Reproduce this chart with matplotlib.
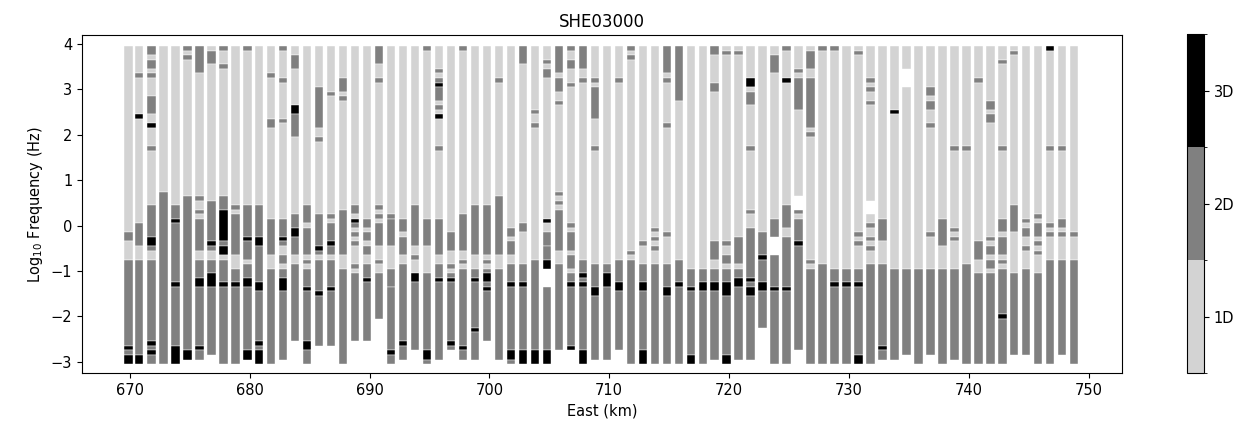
import matplotlib
matplotlib.use("Agg")
import matplotlib.pyplot as plt
from matplotlib.colors import ListedColormap, BoundaryNorm
import matplotlib.cm as cm

# station positions (km east)
east = [669.9, 670.75, 671.8, 672.8, 673.8, 674.8, 675.8, 676.8, 677.8, 678.8,
        679.8, 680.8, 681.8, 682.8, 683.8, 684.8, 685.8, 686.8, 687.8, 688.8,
        689.8, 690.8, 691.8, 692.8, 693.8, 694.8, 695.8, 696.8, 697.8, 698.8,
        699.8, 700.8, 701.8, 702.8, 703.8, 704.8, 705.8, 706.8, 707.8, 708.8,
        709.8, 710.8, 711.8, 712.8, 713.8, 714.8, 715.8, 716.8, 717.8, 718.8,
        719.8, 720.8, 721.8, 722.8, 723.8, 724.8, 725.8, 726.8, 727.8, 728.8,
        729.8, 730.8, 731.8, 732.8, 733.8, 734.8, 735.8, 736.8, 737.8, 738.8,
        739.8, 740.8, 741.8, 742.8, 743.8, 744.8, 745.8, 746.8, 747.8, 748.8]

# dimensionality per station, run-length coded from the highest frequency bin down
# class:count, bins of 0.1 decade starting at log10 f = 3.95 ; 0 = no estimate
dims = [
    "1:41 2:2 1:4 2:19 3:1 2:1 3:2",
    "1:6 2:1 1:8 3:1 1:23 2:5 1:3 2:21 3:2",
    "2:2 1:1 2:2 1:1 2:1 1:4 2:4 1:2 3:1 1:4 2:1 1:12 2:7 3:2 2:1 1:2 2:18 3:1 2:1 3:1 2:2",
    "1:32 2:38",
    "1:35 2:3 3:1 2:13 3:1 2:13 3:4",
    "2:1 1:1 2:1 1:30 2:34 3:2 0:1",
    "2:6 1:27 2:1 1:2 2:1 1:1 2:7 1:2 2:4 3:2 2:13 3:1 2:2 0:1",
    "1:1 2:3 1:30 2:9 3:1 2:1 1:2 2:3 3:3 2:15 0:2",
    "2:1 1:3 2:1 1:28 2:3 3:7 2:1 3:2 1:1 2:5 3:1 2:17",
    "1:35 2:1 1:1 2:9 1:3 2:3 3:1 2:17",
    "2:1 1:34 2:7 3:1 2:4 1:1 2:3 3:2 2:14 3:2 0:1",
    "1:35 2:7 3:2 2:8 3:2 2:11 3:1 2:1 3:3",
    "1:6 2:1 1:9 2:2 1:20 2:8 1:3 2:21",
    "2:1 1:6 2:1 1:8 2:1 1:21 2:4 3:1 2:1 1:2 2:2 1:1 2:2 3:3 2:15 0:1",
    "1:2 2:3 1:8 3:2 2:5 1:17 2:3 3:2 2:4 1:2 2:17 0:5",
    "1:35 2:4 1:1 2:6 1:1 2:1 1:1 2:4 3:1 2:11 3:2 2:3",
    "1:9 2:9 1:2 2:1 1:16 2:7 3:1 2:1 1:1 2:7 3:1 2:11 0:4",
    "1:10 2:1 1:26 2:1 1:1 2:4 3:1 2:2 1:1 2:6 3:1 2:12 0:4",
    "1:7 2:3 1:1 2:1 1:24 2:10 1:3 2:21",
    "1:35 2:2 1:1 3:1 2:1 1:1 2:1 1:1 2:1 1:4 2:1 1:1 2:15 0:5",
    "1:38 2:2 1:1 2:2 1:1 2:2 1:2 2:3 3:1 2:13 0:5",
    "2:4 1:3 2:1 1:27 2:1 1:1 2:1 1:1 2:5 1:3 2:1 1:2 2:10 0:10",
    "1:37 2:1 2:6 1:5 2:4 2:14 3:1 2:2",
    "1:38 2:3 1:1 2:4 1:2 2:17 3:1 2:3 0:1",
    "1:35 2:9 1:2 2:1 1:3 3:2 2:15 0:3",
    "2:1 1:37 2:6 1:6 2:17 3:2 2:1",
    "1:5 2:1 1:1 2:1 3:1 2:3 1:1 2:1 1:1 3:1 1:6 2:1 1:15 2:8 1:2 2:3 3:1 2:17 0:1",
    "1:41 2:4 1:3 2:1 1:1 2:1 3:1 2:13 3:1 2:1 0:3",
    "2:1 1:36 2:8 1:2 2:1 1:1 2:17 3:1 2:2 0:1",
    "1:35 2:11 1:3 2:2 3:1 2:10 3:1 2:6 0:1",
    "1:35 2:11 1:1 2:1 1:1 2:1 3:2 2:1 3:1 2:11 0:5",
    "1:7 2:1 1:25 2:13 1:3 2:20 0:1",
    "1:40 2:2 1:1 2:3 1:2 2:4 3:1 2:14 3:2 2:1",
    "2:4 1:35 2:2 1:7 2:4 3:1 2:14 3:3",
    "1:14 2:1 1:2 2:1 1:29 2:20 3:3",
    "1:3 2:1 1:1 2:2 1:31 3:1 1:2 2:3 2:3 3:2 0:4 2:14 3:3",
    "2:6 1:1 2:3 1:2 2:1 1:19 2:1 1:1 2:1 1:1 2:9 1:3 2:19 0:3",
    "2:1 1:2 2:2 1:3 2:1 1:30 2:1 1:1 2:4 1:1 2:3 1:1 2:2 3:1 2:13 3:1 0:3",
    "2:5 1:2 2:1 1:39 2:3 3:1 2:1 3:1 2:14 3:3",
    "1:7 2:1 1:1 2:7 1:6 2:1 1:25 2:5 3:2 2:14 0:1",
    "1:48 2:2 3:3 2:16 0:1",
    "1:7 2:1 1:39 2:5 3:2 2:13 0:3",
    "2:1 1:1 2:1 1:42 2:1 1:1 2:23",
    "1:43 2:1 1:4 2:4 3:2 2:13 3:3",
    "1:40 2:1 1:1 2:1 1:1 2:1 1:3 2:22",
    "2:6 1:1 2:1 1:9 2:1 1:23 2:1 1:6 2:5 3:2 2:15",
    "2:12 1:35 2:5 3:1 2:17",
    "1:49 2:4 3:1 2:14 3:2",
    "1:49 2:3 3:2 2:16",
    "2:2 1:6 2:2 1:33 2:4 1:2 2:3 3:2 2:15 0:1",
    "1:1 2:1 1:41 2:1 1:2 2:2 1:1 2:3 3:3 2:13 3:2",
    "1:1 2:1 1:40 2:6 1:1 2:2 3:2 2:16 0:1",
    "1:7 3:2 1:1 2:3 1:9 2:1 1:13 2:1 1:3 2:11 3:1 2:1 3:2 2:14 0:1",
    "1:41 2:5 3:1 2:5 3:2 2:8 0:8",
    "1:2 2:4 1:32 2:4 0:4 2:7 3:1 2:16",
    "2:1 1:6 3:1 1:27 2:5 1:2 2:11 3:1 2:16",
    "1:5 2:1 1:1 2:7 1:19 0:3 2:1 1:1 2:5 3:1 2:23 0:3",
    "1:1 2:4 1:2 2:11 1:1 2:1 1:27 2:1 1:1 2:21",
    "2:1 1:47 2:22",
    "2:1 1:48 2:3 3:1 2:17",
    "1:49 2:3 3:1 2:17",
    "1:1 2:1 1:39 2:1 1:1 2:1 1:5 2:3 3:1 2:15 3:2",
    "1:7 2:1 1:1 2:1 1:2 2:1 1:21 0:3 1:2 2:1 1:2 2:1 1:1 2:1 1:3 2:22",
    "1:38 2:5 1:5 2:18 3:1 2:2 0:1",
    "1:14 3:1 1:34 2:20 0:1",
    "1:5 0:4 1:40 2:19 0:2",
    "1:49 2:21",
    "1:9 2:2 1:1 2:2 1:3 2:1 1:23 2:1 1:7 2:19 0:2",
    "1:38 2:6 1:5 2:21",
    "1:22 2:1 1:17 2:1 1:1 2:1 1:6 2:20 0:1",
    "1:22 2:1 1:25 2:22",
    "1:7 2:1 1:35 2:4 1:3 2:20",
    "1:12 2:2 1:1 2:2 1:25 2:1 1:1 2:2 1:1 2:2 1:1 2:20",
    "1:3 2:1 1:18 2:1 1:15 2:3 1:1 2:4 1:1 2:1 1:1 2:10 3:1 2:10",
    "1:1 2:1 1:33 2:6 1:9 2:18 0:2",
    "1:38 2:1 1:1 2:2 1:2 2:1 1:4 2:19 0:2",
    "1:37 2:1 1:1 2:3 1:1 2:1 1:1 2:1 1:4 2:20",
    "3:1 1:21 2:1 1:16 2:1 1:1 2:1 1:5 2:23",
    "1:22 2:1 1:15 2:2 1:1 2:1 1:5 2:21 0:2",
    "1:41 2:1 1:5 2:23",
]

dim_labels = ["1D", "2D", "3D"]
dim_colors = ["#d3d3d3", "#808080", "#000000"]

f_top = 3.95
bin_size = 0.1
col_width = 0.7

fig = plt.figure(figsize=(12.51, 4.25), dpi=100)
ax = fig.add_axes([0.0655, 0.122, 0.8315, 0.796])
cax = fig.add_axes([0.949, 0.122, 0.0135, 0.798])

cmap = ListedColormap(dim_colors)
norm = BoundaryNorm([0.5, 1.5, 2.5, 3.5], cmap.N)

for x, code in zip(east, dims):
    top = f_top
    for tok in code.split():
        c, n = tok.split(":")
        c, n = int(c), int(n)
        h = n * bin_size
        if c > 0:
            ax.bar(x, h, bottom=top - h, width=col_width, color=dim_colors[c - 1],
                   edgecolor="white", linewidth=0.3, align="center")
        top -= h

ax.set_xlim(666.0, 752.8)
ax.set_ylim(-3.25, 4.2)
ax.set_xticks([670, 680, 690, 700, 710, 720, 730, 740, 750])
ax.set_yticks([-3, -2, -1, 0, 1, 2, 3, 4])
ax.tick_params(labelsize=10.5)
ax.set_xlabel("East (km)", fontsize=10.5)
ax.set_ylabel("Log$_{10}$ Frequency (Hz)", fontsize=10.5)
ax.set_title("SHE03000", fontsize=12)

sm = cm.ScalarMappable(cmap=cmap, norm=norm)
cb = fig.colorbar(sm, cax=cax, ticks=[1, 2, 3])
cb.ax.set_yticklabels(dim_labels)
cb.ax.tick_params(labelsize=10.5)

fig.savefig("out.png", dpi=100)
